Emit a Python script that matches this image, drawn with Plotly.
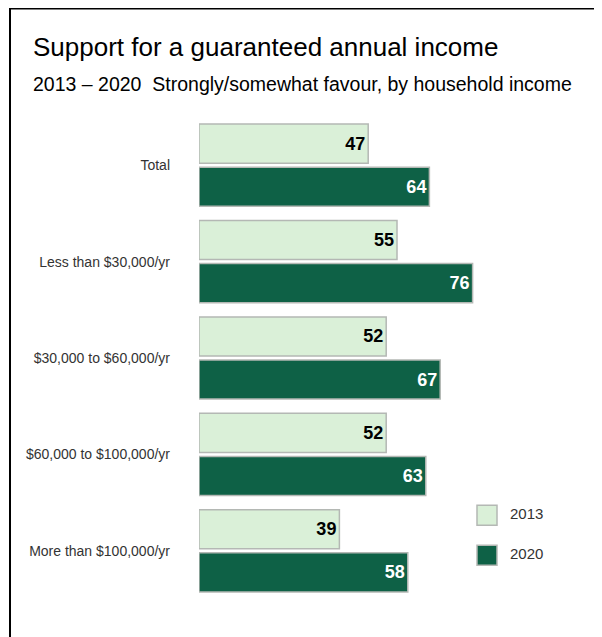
import plotly.graph_objects as go

categories = ["Total", "Less than $30,000/yr", "$30,000 to $60,000/yr",
              "$60,000 to $100,000/yr", "More than $100,000/yr"]
values_2013 = [47, 55, 52, 52, 39]
values_2020 = [64, 76, 67, 63, 58]
series_names = ["2013", "2020"]
title_text = "Support for a guaranteed annual income"
subtitle_text = "2013 \u2013 2020\u00a0 Strongly/somewhat favour, by household income"

# the page body adds an 8px offset; work in page pixels and convert
OFF = 8
PAGE_W, PAGE_H = 602, 637
W, H = PAGE_W - OFF, PAGE_H - OFF
PLOT_LEFT, PLOT_RIGHT = 199, 559          # page pixels
PLOT_TOP, PLOT_BOTTOM = 117.4, 598.6      # page pixels
L = PLOT_LEFT - OFF
T = PLOT_TOP - OFF
R = W - (PLOT_RIGHT - OFF)
B = H - (PLOT_BOTTOM - OFF)
PW, PH = W - L - R, H - T - B

def px(x):
    return (x - OFF - L) / PW

def py(y):
    return (H - B - (y - OFF)) / PH

light = "#daf0d8"
dark = "#0e6146"
outline = "#b4b8b4"
sans = "Liberation Sans, Arial, sans-serif"

fig = go.Figure()
fig.add_trace(go.Bar(
    name=series_names[0], y=categories, x=values_2013, orientation="h",
    marker=dict(color=light, line=dict(color=outline, width=1.5)),
    text=values_2013, textposition="inside", insidetextanchor="end",
    textangle=0, constraintext="none",
    textfont=dict(family=sans, size=18, color="#000000", weight="bold"),
    showlegend=False, hoverinfo="skip",
))
fig.add_trace(go.Bar(
    name=series_names[1], y=categories, x=values_2020, orientation="h",
    marker=dict(color=dark, line=dict(color=outline, width=1.5)),
    text=values_2020, textposition="inside", insidetextanchor="end",
    textangle=0, constraintext="none",
    textfont=dict(family=sans, size=18, color="#ffffff", weight="bold"),
    showlegend=False, hoverinfo="skip",
))

shapes = [
    dict(type="line", xref="paper", yref="paper", x0=px(10), x1=px(10),
         y0=py(OFF), y1=py(PAGE_H + 5), line=dict(color="#000000", width=2)),
    dict(type="line", xref="paper", yref="paper", x0=px(9), x1=px(PAGE_W + 5),
         y0=py(OFF + 1), y1=py(OFF + 1), line=dict(color="#000000", width=2)),
]
annotations = [
    dict(text=title_text, xref="paper", yref="paper", x=px(31), y=py(48),
         xanchor="left", yanchor="middle", showarrow=False,
         font=dict(family=sans, size=26, color="#000000")),
    dict(text=subtitle_text, xref="paper", yref="paper", x=px(31), y=py(84.5),
         xanchor="left", yanchor="middle", showarrow=False,
         font=dict(family=sans, size=19.5, color="#000000")),
]
legend_colors = [light, dark]
legend_y = [515, 555]
for name, col, cy in zip(series_names, legend_colors, legend_y):
    shapes.append(dict(type="rect", xref="paper", yref="paper",
                       x0=px(477), x1=px(497), y0=py(cy - 10), y1=py(cy + 10),
                       fillcolor=col, line=dict(color=outline, width=1.5)))
    annotations.append(dict(text=name, xref="paper", yref="paper",
                            x=px(508), y=py(cy - 2), xanchor="left", yanchor="middle",
                            showarrow=False,
                            font=dict(family=sans, size=15, color="#333333")))

fig.update_layout(
    width=W, height=H,
    margin=dict(l=L, r=R, t=T, b=B, autoexpand=False),
    paper_bgcolor="#ffffff", plot_bgcolor="#ffffff",
    barmode="group", bargap=0.106, bargroupgap=0.093,
    xaxis=dict(range=[0, 100], visible=False, fixedrange=True),
    yaxis=dict(type="category", range=[4.5, -0.5], showgrid=False, zeroline=False,
               showline=False, ticks="", ticklabelstandoff=28,
               tickfont=dict(family=sans, size=14, color="#333333"),
               fixedrange=True),
    shapes=shapes, annotations=annotations,
)

fig.write_html("out.html")
